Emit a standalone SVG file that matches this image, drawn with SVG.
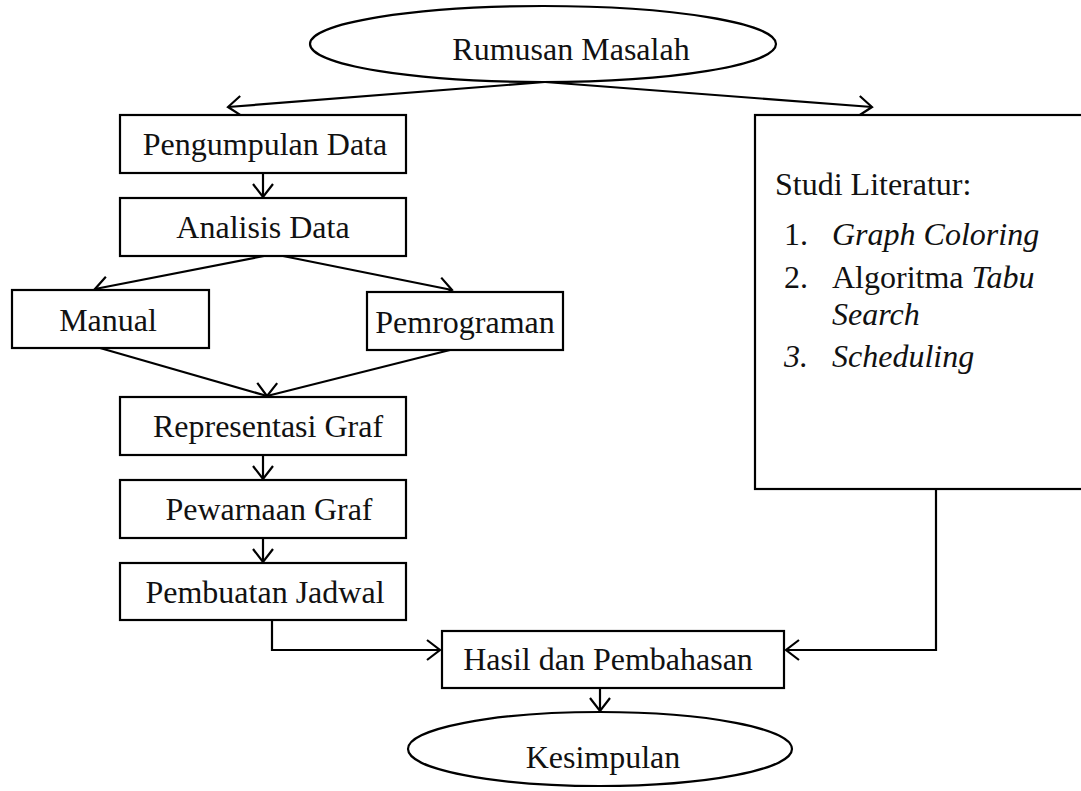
<svg xmlns="http://www.w3.org/2000/svg" width="1081" height="791" viewBox="0 0 1081 791">
<defs>
<marker id="ah" markerUnits="userSpaceOnUse" markerWidth="30" markerHeight="30" viewBox="-15 -15 30 30" refX="0" refY="0" orient="auto">
<path d="M-13,-10 L0,0 L-13,10" fill="none" stroke="#000" stroke-width="2.2"/>
</marker>
</defs>
<style>
.b{fill:#fff;stroke:#000;stroke-width:2.2}
.t{font-family:"Liberation Serif","Times New Roman",serif;font-size:32px;fill:#111;text-anchor:middle}
.l{font-family:"Liberation Serif","Times New Roman",serif;font-size:32px;fill:#111}
.c{fill:none;stroke:#000;stroke-width:2.2;marker-end:url(#ah)}
</style>
<rect width="1081" height="791" fill="#fff"/>
<g id="connectors">
<path class="c" d="M545,82 L228,107"/>
<path class="c" d="M545,82 L872,107"/>
<path class="c" d="M263,173 L263,197"/>
<path class="c" d="M264,256 L95,289"/>
<path class="c" d="M283,256 L452,290"/>
<path class="c" d="M100,348 L267,396"/>
<path class="c" d="M450,350 L267,396"/>
<path class="c" d="M263,455 L263,479"/>
<path class="c" d="M263,538 L263,562"/>
<path class="c" d="M272,620 L272,650 L440,650"/>
<path class="c" d="M936,489 L936,650 L786,650"/>
<path class="c" d="M600,688 L600,711"/>
</g>
<g id="rumusan"><ellipse class="b" cx="543" cy="44" rx="233" ry="38"/><text class="t" x="571" y="60">Rumusan Masalah</text></g>
<g id="pengumpulan"><rect class="b" x="120" y="115" width="286" height="58"/><text class="t" x="265" y="155">Pengumpulan Data</text></g>
<g id="analisis"><rect class="b" x="120" y="198" width="286" height="58"/><text class="t" x="263" y="238">Analisis Data</text></g>
<g id="manual"><rect class="b" x="12" y="290" width="197" height="58"/><text class="t" x="108" y="331">Manual</text></g>
<g id="pemrograman"><rect class="b" x="367" y="292" width="196" height="58"/><text class="t" x="465" y="333">Pemrograman</text></g>
<g id="representasi"><rect class="b" x="120" y="397" width="286" height="58"/><text class="t" x="268" y="437">Representasi Graf</text></g>
<g id="pewarnaan"><rect class="b" x="120" y="480" width="286" height="58"/><text class="t" x="269" y="520">Pewarnaan Graf</text></g>
<g id="pembuatan"><rect class="b" x="120" y="563" width="286" height="57"/><text class="t" x="265" y="603">Pembuatan Jadwal</text></g>
<g id="hasil"><rect class="b" x="442" y="631" width="342" height="57"/><text class="t" x="608" y="670">Hasil dan Pembahasan</text></g>
<g id="kesimpulan"><ellipse class="b" cx="600" cy="749" rx="192" ry="37"/><text class="t" x="603" y="768">Kesimpulan</text></g>
<g id="literatur"><rect class="b" x="755" y="115" width="340" height="374"/>
<text class="l" x="775" y="195">Studi Literatur:</text>
<text class="l" x="784" y="245">1.</text><text class="l" x="832" y="245" font-style="italic">Graph Coloring</text>
<text class="l" x="784" y="288">2.</text><text class="l" x="832" y="288">Algoritma <tspan font-style="italic">Tabu</tspan></text>
<text class="l" x="832" y="325" font-style="italic">Search</text>
<text class="l" x="784" y="367" font-style="italic">3.</text><text class="l" x="832" y="367" font-style="italic">Scheduling</text>
</g>
</svg>
